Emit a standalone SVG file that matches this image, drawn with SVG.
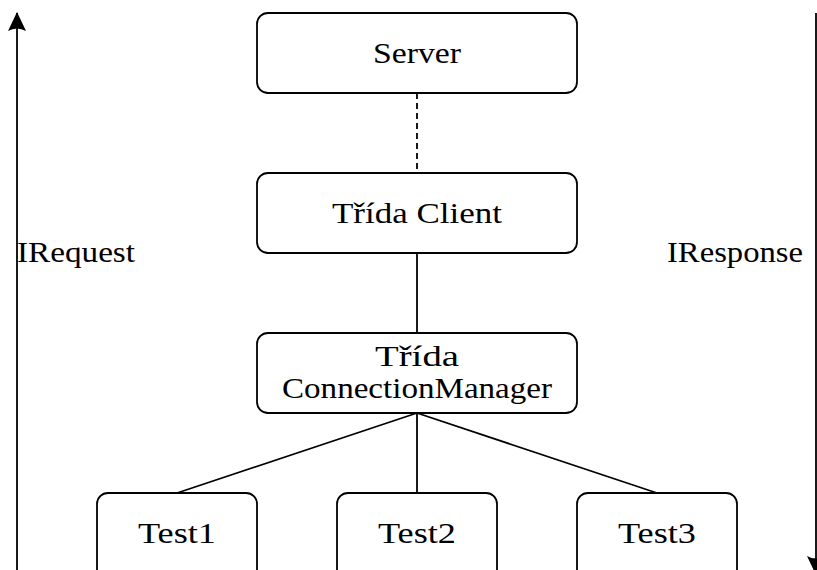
<svg xmlns="http://www.w3.org/2000/svg" width="817" height="570" viewBox="0 0 817 570">
  <style>
    .box { fill: #ffffff; stroke: #000000; stroke-width: 1.8; }
    .edge { stroke: #000000; stroke-width: 1.8; fill: none; }
    .dash { stroke-dasharray: 6 4; }
    .lbl { font-family: "Liberation Serif", "DejaVu Serif", "Noto Serif", serif; font-size: 30px; fill: #000000; text-anchor: middle; }
    .side { font-family: "Liberation Serif", "DejaVu Serif", "Noto Serif", serif; font-size: 30px; fill: #000000; }
  </style>
  <defs>
    <marker id="head" viewBox="0 0 20 20" refX="19" refY="10" markerWidth="20" markerHeight="20" markerUnits="userSpaceOnUse" orient="auto">
      <path d="M20,10 L1,1 Q6,10 1,19 Z" fill="#000000"/>
    </marker>
  </defs>

  <!-- connectors -->
  <g id="connectors">
    <line class="edge dash" x1="417" y1="93" x2="417" y2="173"/>
    <line class="edge" x1="417" y1="253" x2="417" y2="333"/>
    <line class="edge" x1="417" y1="413" x2="177" y2="493"/>
    <line class="edge" x1="417" y1="413" x2="417" y2="493"/>
    <line class="edge" x1="417" y1="413" x2="657" y2="493"/>
    <line class="edge" x1="17" y1="572" x2="17" y2="13" marker-end="url(#head)"/>
    <line class="edge" x1="816" y1="13" x2="816" y2="574" marker-end="url(#head)"/>
  </g>

  <!-- side labels -->
  <text class="side" x="17" y="262" textLength="118" lengthAdjust="spacingAndGlyphs">IRequest</text>
  <text class="side" x="667" y="262" textLength="136" lengthAdjust="spacingAndGlyphs">IResponse</text>

  <g id="server">
    <rect class="box" x="257" y="13" width="320" height="80" rx="11"/>
    <text class="lbl" x="417" y="63" textLength="88" lengthAdjust="spacingAndGlyphs">Server</text>
  </g>
  <g id="client">
    <rect class="box" x="257" y="173" width="320" height="80" rx="11"/>
    <text class="lbl" x="417" y="223" textLength="170" lengthAdjust="spacingAndGlyphs">Třída Client</text>
  </g>
  <g id="connection-manager">
    <rect class="box" x="257" y="333" width="320" height="80" rx="11"/>
    <text class="lbl" x="417" y="366" textLength="84" lengthAdjust="spacingAndGlyphs">Třída</text>
    <text class="lbl" x="417" y="398" textLength="270" lengthAdjust="spacingAndGlyphs">ConnectionManager</text>
  </g>
  <g id="test1">
    <rect class="box" x="97" y="493" width="160" height="90" rx="11"/>
    <text class="lbl" x="177" y="543" textLength="78" lengthAdjust="spacingAndGlyphs">Test1</text>
  </g>
  <g id="test2">
    <rect class="box" x="337" y="493" width="160" height="90" rx="11"/>
    <text class="lbl" x="417" y="543" textLength="78" lengthAdjust="spacingAndGlyphs">Test2</text>
  </g>
  <g id="test3">
    <rect class="box" x="577" y="493" width="160" height="90" rx="11"/>
    <text class="lbl" x="657" y="543" textLength="78" lengthAdjust="spacingAndGlyphs">Test3</text>
  </g>
</svg>
